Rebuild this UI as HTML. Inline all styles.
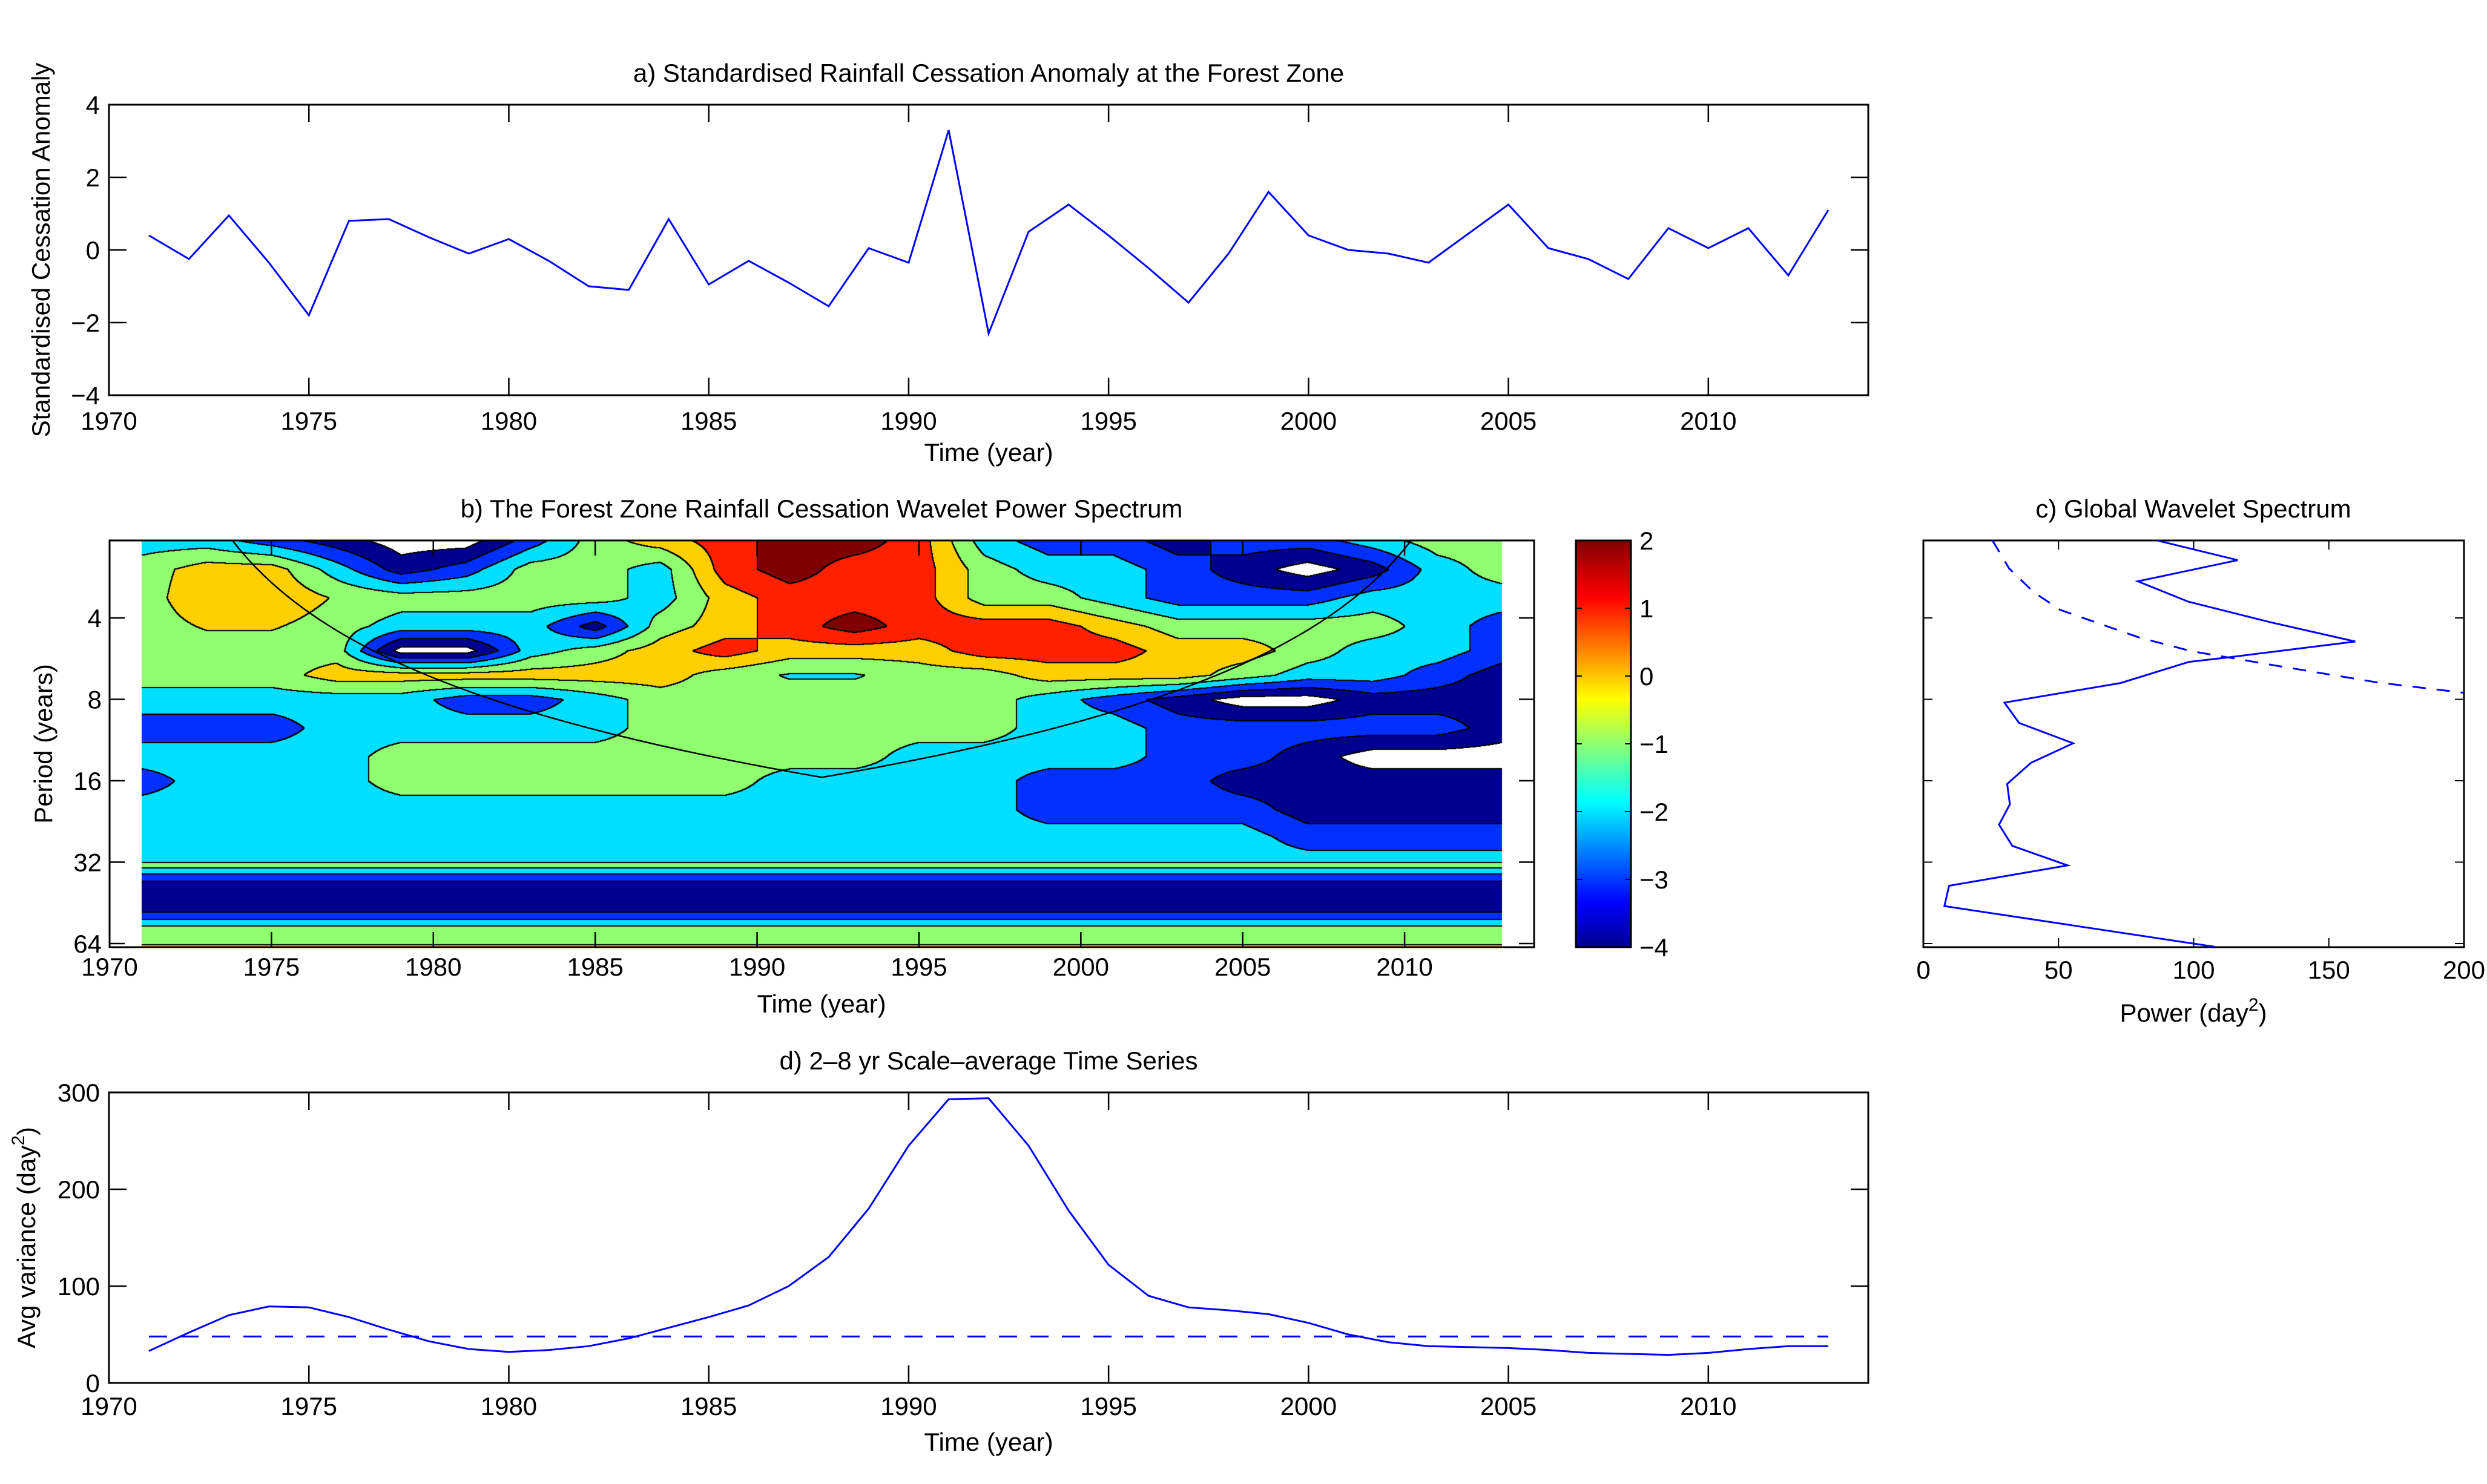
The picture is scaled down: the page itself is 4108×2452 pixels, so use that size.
<!DOCTYPE html>
<html><head><meta charset="utf-8">
<style>
html,body{margin:0;padding:0;background:#fff;}
#wrap{position:relative;width:4108px;height:2452px;overflow:hidden;}
#cv{position:absolute;left:0;top:0;}
#sv{position:absolute;left:0;top:0;}
text{font-family:"Liberation Sans",Arial,sans-serif;fill:#000;}
</style></head>
<body>
<div id="wrap">
<canvas id="cv" width="4108" height="2452"></canvas>
<svg id="sv" width="4108" height="2452" xmlns="http://www.w3.org/2000/svg">
<defs>
<linearGradient id="jet" x1="0" y1="1" x2="0" y2="0">
<stop offset="0" stop-color="#00008f"/><stop offset="0.11" stop-color="#0000ff"/>
<stop offset="0.36" stop-color="#00ffff"/><stop offset="0.61" stop-color="#ffff00"/>
<stop offset="0.86" stop-color="#ff0000"/><stop offset="1" stop-color="#800000"/>
</linearGradient>
</defs>
<g id="g" fill="none"></g>
<text x="1633" y="135" font-size="42" text-anchor="middle">a) Standardised Rainfall Cessation Anomaly at the Forest Zone</text>
<text transform="translate(82,413) rotate(-90)" font-size="42" text-anchor="middle">Standardised Cessation Anomaly</text>
<text x="1633" y="762" font-size="42" text-anchor="middle">Time (year)</text>
<text x="1357" y="855" font-size="42" text-anchor="middle">b) The Forest Zone Rainfall Cessation Wavelet Power Spectrum</text>
<text transform="translate(86,1229) rotate(-90)" font-size="42" text-anchor="middle">Period (years)</text>
<text x="1357" y="1673" font-size="42" text-anchor="middle">Time (year)</text>
<text x="3623" y="855" font-size="42" text-anchor="middle">c) Global Wavelet Spectrum</text>
<text x="3623" y="1688" font-size="42" text-anchor="middle">Power (day<tspan dy="-18" font-size="30">2</tspan><tspan dy="18">)</tspan></text>
<text x="1633" y="1767" font-size="42" text-anchor="middle">d) 2–8 yr Scale–average Time Series</text>
<text transform="translate(58,2045) rotate(-90)" font-size="42" text-anchor="middle">Avg variance (day<tspan dy="-18" font-size="30">2</tspan><tspan dy="18">)</tspan></text>
<text x="1633" y="2397" font-size="42" text-anchor="middle">Time (year)</text>
</svg>
</div>
<script>
// ---- data ----
const yearsA=[1971,1972,1973,1974,1975,1976,1977,1978,1979,1980,1981,1982,1983,1984,1985,1986,1987,1988,1989,1990,1991,1992,1993,1994,1995,1996,1997,1998,1999,2000,2001,2002,2003,2004,2005,2006,2007,2008,2009,2010,2011,2012,2013];
const anomaly=[0.4,-0.25,0.95,-0.35,-1.8,0.8,0.85,0.35,-0.1,0.3,-0.3,-1.0,-1.1,0.85,-0.95,-0.3,-0.9,-1.55,0.05,-0.35,3.3,-2.3,0.5,1.25,0.4,-0.5,-1.45,-0.1,1.6,0.4,0.0,-0.1,-0.35,0.45,1.25,0.05,-0.25,-0.8,0.6,0.05,0.6,-0.7,1.1];
const scaleAvg=[33,52,70,79,78,68,55,43,35,32,34,38,46,57,68,80,100,130,180,245,293,294,245,178,122,90,78,75,71,62,50,42,38,37,36,34,31,30,29,31,35,38,38];
const scaleAvgSig=[48];
const yearTicks=[1970,1975,1980,1985,1990,1995,2000,2005,2010];
const anomTicks=[-4,-2,0,2,4];
const varTicks=[0,100,200,300];
const periodTicks=[4,8,16,32,64];
const powerTicks=[0,50,100,150,200];
const cbTicks=[-4,-3,-2,-1,0,1,2];
// global wavelet spectrum (period as log2 years, power)
const gwsPeriodLog2=[1.05,1.29,1.55,1.8,2.05,2.29,2.49,2.54,2.8,3.04,3.29,3.54,3.78,4.04,4.29,4.54,4.8,5.04,5.29,5.54,6.04];
const gwsPower=[86.6,116.3,79.3,98,128,159.8,111.5,98.3,72.9,30,35.4,55.4,39.8,31,32,28,32.9,53.4,9.5,7.8,107.8];
const sigPeriodLog2=[1.05,1.39,1.68,1.9,2.24,2.41,2.6,2.79,2.92,3.1];
const sigPower=[25.6,31.7,40.7,50.5,79.8,99.3,133,167.6,200,240];
// wavelet power contour bands (0 white,1 navy,2 blue,3 cyan,4 green,5 yellow,6 red,7 dark red)
const gridYears=[1971,1973,1975,1977,1979,1981,1983,1985,1987,1989,1991,1993,1995,1997,1999,2001,2003,2005,2007,2009,2011,2013];
const gridLog2=[1.05,1.4,1.75,2.1,2.4,2.7,3.0,3.35,3.7,4.0,4.35,4.7,5.0];
const gridBands=[
[3,3,2,1,0,0,2,4,5,6,7,7,6,3,2,2,1,2,2,3,4,4],
[4,5,5,3,1,2,4,4,3,6,7,6,6,4,3,3,2,1,0,1,3,4],
[4,5.3,5.3,4.4,4,4,4,4,3,5,6,6,6,4,4,3,2,2,2,3,3,3],
[4,4.6,4.6,4,3,3,3,1,4,5,6,7,6,6,6,5,4,4,4,4,3,2],
[4,4,4,4,0,0,3,4,5,6,5,5,5,6,6,6,5,5,4,3,3,2],
[4,4,4,5,5,5,5,5,5,4,3.4,3.4,4,4,5,5,5,4,3,3,2,1],
[3,3,3,3,3,2,2,3,4,4,4,4,4,4,3,2,1,0,0,1,1,1],
[2,2,2,3,3,3,3,3,4,4,4,4,4,4,3,3,2,2,2,2,2,1],
[3,3,3,3,4,4,4,4,4,4,4,4,3,3,3,3,2,2,1,0,0,0],
[2,3,3,3,4,4,4,4,4,4,3,3,3,3,2,2,2,1,1,1,1,1],
[3,3,3,3,3,3,3,3,3,3,3,3,3,3,2,2,2,2,1,1,1,1],
[3,3,3,3,3,3,3,3,3,3,3,3,3,3,3,3,3,3,2,2,2,2],
[3,3,3,3,3,3,3,3,3,3,3,3,3,3,3,3,3,3,3,3,3,3]];
const stripeLog2=[5.0,5.07,5.14,5.23,5.61,5.70,5.78,6.01,6.05];
const stripeBands=[4,3,2,1,2,3,4,5];
const bandColors=[[255,255,255],[0,0,143],[0,48,255],[0,223,255],[143,255,111],[255,207,0],[255,32,0],[127,0,0]];
const coiFactor=[0.74];

// ---- scales ----
const xA=t=>180+(t-1970)*(2906/44);
const yA=v=>413-v*60;
const yD=v=>2285-v*1.6;
const xB=t=>181+(t-1970)*(2353/44);
const yB=l=>1021+(l-2)*134.5;
const xC=p=>3177+p*(893/200);
const NS='http://www.w3.org/2000/svg';
const g=document.getElementById('g');
function mk(tag){const e=document.createElementNS(NS,tag);g.appendChild(e);return e;}
function line(x1,y1,x2,y2,w){const e=mk('line');e.setAttribute('x1',x1);e.setAttribute('y1',y1);e.setAttribute('x2',x2);e.setAttribute('y2',y2);e.setAttribute('stroke','#000');e.setAttribute('stroke-width',w||2.5);return e;}
function txt(x,y,s,anchor){const e=mk('text');e.setAttribute('x',x);e.setAttribute('y',y);e.setAttribute('font-size','42');e.setAttribute('text-anchor',anchor||'middle');e.textContent=s;return e;}
function box(l,t,r,b,name){const e=mk('rect');e.setAttribute('x',l);e.setAttribute('y',t);e.setAttribute('width',r-l);e.setAttribute('height',b-t);e.setAttribute('fill','none');e.setAttribute('stroke','#000');e.setAttribute('stroke-width','3');

return e;}
function poly(pts,color,w,dash,name){const e=mk('polyline');e.setAttribute('points',pts.map(p=>p[0].toFixed(1)+','+p[1].toFixed(1)).join(' '));e.setAttribute('fill','none');e.setAttribute('stroke',color);e.setAttribute('stroke-width',w);if(dash)e.setAttribute('stroke-dasharray',dash);

return e;}

// ---- contour canvas ----
const cv=document.getElementById('cv');const ctx=cv.getContext('2d');
(function(){
 const x0=Math.round(xB(1971)),x1=Math.round(xB(2013)),y0=Math.round(yB(1.05)),y1=Math.round(yB(6.04));
 const w=x1-x0,h=y1-y0;const B=new Uint8Array(w*h);
 function seg(arr,v){let i=0;while(i<arr.length-2&&v>arr[i+1])i++;let f=(v-arr[i])/(arr[i+1]-arr[i]);f=Math.max(0,Math.min(1,f));return [i,f];}
 for(let py=0;py<h;py++){
  const L=2+((py+y0)-1021)/134.5;
  if(L>=5.0){let k=0;while(k<stripeBands.length-1&&L>stripeLog2[k+1])k++;for(let px=0;px<w;px++)B[py*w+px]=stripeBands[k];continue;}
  const [ri,rf]=seg(gridLog2,L);
  for(let px=0;px<w;px++){
   const t=1970+((px+x0)-181)*44/2353;
   const [ci,cf]=seg(gridYears,t);
   const a=gridBands[ri][ci],b=gridBands[ri][ci+1],c=gridBands[ri+1][ci],d=gridBands[ri+1][ci+1];
   const v=(a*(1-cf)+b*cf)*(1-rf)+(c*(1-cf)+d*cf)*rf;
   B[py*w+px]=Math.max(0,Math.min(7,Math.round(v)));
  }
 }
 const img=ctx.createImageData(w,h);const D=img.data;
 for(let py=0;py<h;py++)for(let px=0;px<w;px++){
  const i=py*w+px,b=B[i];let edge=false;
  for(let dy=-1;dy<=1&&!edge;dy++)for(let dx=-1;dx<=1;dx++){const qx=px+dx,qy=py+dy;if(qx<0||qy<0||qx>=w||qy>=h)continue;if(B[qy*w+qx]!==b){edge=true;break;}}
  const col=edge?[0,0,0]:bandColors[b];
  D[i*4]=col[0];D[i*4+1]=col[1];D[i*4+2]=col[2];D[i*4+3]=255;
 }
 ctx.putImageData(img,x0,y0);
})();

// ---- panel a ----
box(180,173,3086,653,'axes-a');
yearTicks.forEach(t=>{const x=xA(t);const l1=line(x,653,x,624);


const l2=line(x,173,x,202);


const e=txt(x,710,String(t));

});
anomTicks.forEach(v=>{const y=yA(v);const l1=line(180,y,209,y);


const l2=line(3086,y,3057,y);


const e=txt(165,y+15,(v<0?'−':'')+Math.abs(v),'end');

});
poly(yearsA.map((t,i)=>[xA(t),yA(anomaly[i])]),'#0000ff',3,null,'anomaly-line');

// ---- panel b ----
box(181,893,2534,1565,'axes-b');
yearTicks.forEach(t=>{const x=xB(t);const l1=line(x,1565,x,1540);


const l2=line(x,893,x,918);


const e=txt(x,1612,String(t));

});
periodTicks.forEach(p=>{const y=yB(Math.log2(p));const l1=line(181,y,206,y);


const l2=line(2534,y,2509,y);


const e=txt(168,y+15,String(p),'end');

});
(function(){const pts=[];for(let t=1971;t<=2013.001;t+=0.25){const dist=Math.min(t-1971,2013-t);const p=coiFactor[0]*dist;if(p<=0)continue;const L=Math.log2(p);if(L<1.05)continue;pts.push([xB(t),yB(L)]);}
const tl=1971+Math.pow(2,1.05)/coiFactor[0],tr=2013-Math.pow(2,1.05)/coiFactor[0];
const all=[[xB(tl),yB(1.05)]].concat(pts).concat([[xB(tr),yB(1.05)]]);
poly(all,'#000',2.5,null,'cone-of-influence');})();

// colorbar
(function(){const r=mk('rect');r.setAttribute('x',2603);r.setAttribute('y',893);r.setAttribute('width',91);r.setAttribute('height',672);r.setAttribute('fill','url(#jet)');r.setAttribute('stroke','#000');r.setAttribute('stroke-width','3');


cbTicks.forEach(v=>{const y=1565-(v+4)*112;const l1=line(2603,y,2613,y,2);


const l2=line(2694,y,2684,y,2);


const e=txt(2708,y+15,(v<0?'−':'')+Math.abs(v),'start');

});})();

// ---- panel c ----
box(3177,893,4070,1565,'axes-c');
powerTicks.forEach(p=>{const x=xC(p);const l1=line(x,1565,x,1550,2);


const l2=line(x,893,x,908,2);


const e=txt(x,1617,String(p));

});
periodTicks.forEach(p=>{const y=yB(Math.log2(p));const l1=line(3177,y,3192,y,2);


const l2=line(4070,y,4055,y,2);

});
poly(gwsPeriodLog2.map((l,i)=>[xC(gwsPower[i]),yB(l)]),'#0000ff',3,null,'global-wavelet-spectrum-line');
(function(){const pts=[];for(let i=0;i<sigPower.length;i++){let x=xC(sigPower[i]),y=yB(sigPeriodLog2[i]);if(x>4070){const p0=sigPower[i-1],l0=sigPeriodLog2[i-1];const f=(200-p0)/(sigPower[i]-p0);x=4070;y=yB(l0+f*(sigPeriodLog2[i]-l0));pts.push([x,y]);break;}pts.push([x,y]);}
poly(pts,'#0000ff',3,'22,18','significance-dashed-line-c');})();

// ---- panel d ----
box(180,1805,3086,2285,'axes-d');
yearTicks.forEach(t=>{const x=xA(t);const l1=line(x,2285,x,2256);


const l2=line(x,1805,x,1834);


const e=txt(x,2338,String(t));

});
varTicks.forEach(v=>{const y=yD(v);const l1=line(180,y,209,y);


const l2=line(3086,y,3057,y);


const e=txt(165,y+15,String(v),'end');

});
poly(yearsA.map((t,i)=>[xA(t),yD(scaleAvg[i])]),'#0000ff',3,null,'scale-average-line');
poly([[xA(1971),yD(scaleAvgSig[0])],[xA(2013),yD(scaleAvgSig[0])]],'#0000ff',3,'30,22','significance-dashed-line-d');
</script>
</body></html>
